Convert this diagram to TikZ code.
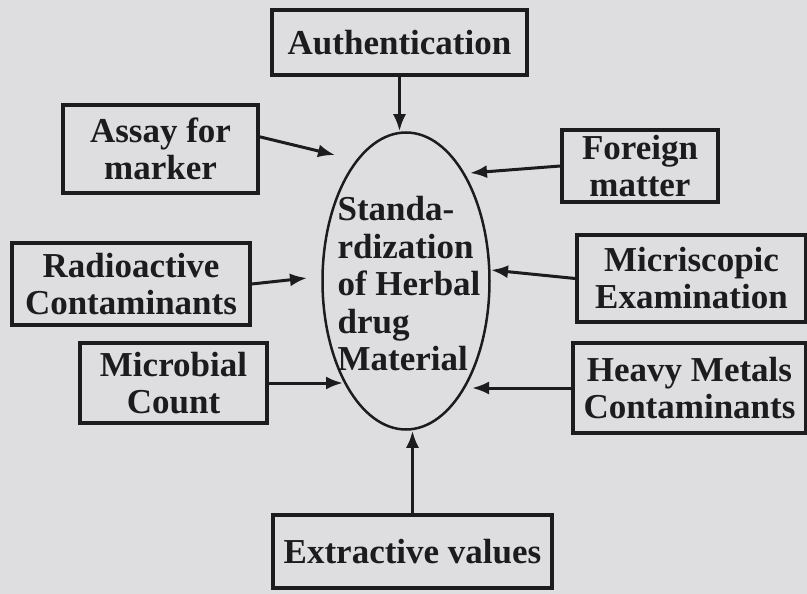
\documentclass[tikz,border=0pt]{standalone}
\usepackage{fontspec}
\setmainfont{Liberation Serif}
\usetikzlibrary{shapes.geometric,arrows.meta}
\definecolor{paper}{RGB}{222,222,224}
\definecolor{ink}{RGB}{28,28,30}
\begin{document}
\begin{tikzpicture}[x=1pt,y=-1pt,
  box/.style={draw=ink,line width=3.5pt,inner sep=0pt,align=center,text=ink,
    font=\bfseries\fontsize{35}{37}\selectfont},
  arr/.style={draw=ink,line width=3pt,-{Latex[length=17pt,width=13pt]}}]
\fill[paper] (0,0) rectangle (807,594);
\useasboundingbox (0,0) rectangle (807,594);
% centre
\node [draw=ink,line width=2.5pt,ellipse,minimum width=167pt,minimum height=297pt,inner sep=0pt] (std) at (406,281) {};
\node [align=left,inner sep=0pt,text=ink,font=\bfseries\fontsize{35}{37.5}\selectfont] (stdtext) at (409,284)
  {Standa-\\rdization\\of Herbal\\drug\\Material};
% boxes
\node [box,minimum width=255pt,minimum height=65pt] (auth) at (399.5,42.5) {Authentication};
\node [box,minimum width=195pt,minimum height=88pt] (assay) at (160.5,149) {Assay for\\marker};
\node [box,minimum width=238pt,minimum height=82pt] (radio) at (131,284) {Radioactive\\Contaminants};
\node [box,minimum width=187pt,minimum height=80pt] (microbial) at (173.5,383) {Microbial\\Count};
\node [box,minimum width=156pt,minimum height=72pt] (foreign) at (640,166) {Foreign\\matter};
\node [box,minimum width=229pt,minimum height=87pt] (micro) at (691.5,278.5) {Micriscopic\\Examination};
\node [box,minimum width=233pt,minimum height=90pt] (heavy) at (689.5,388) {Heavy Metals\\Contaminants};
\node [box,minimum width=279pt,minimum height=73pt] (extract) at (412.5,551.5) {Extractive values};
% arrow tips
\coordinate (in-assay) at (335,155);
\coordinate (in-radio) at (307,278);
\coordinate (in-microbial) at (343,383);
\coordinate (in-foreign) at (470,173);
\coordinate (in-micro) at (491,270);
\coordinate (in-heavy) at (472,388);
% arrows
\draw [arr] (auth.south) -- (auth.south |- std.north);
\draw [arr] (assay.7) -- (in-assay);
\draw [arr] (radio.east) -- (in-radio);
\draw [arr] (microbial.east) -- (in-microbial);
\draw [arr] (foreign.west) -- (in-foreign);
\draw [arr] (micro.west) -- (in-micro);
\draw [arr] (heavy.west) -- (in-heavy);
\draw [arr] (extract.north) -- (extract.north |- std.south);
\end{tikzpicture}
\end{document}
